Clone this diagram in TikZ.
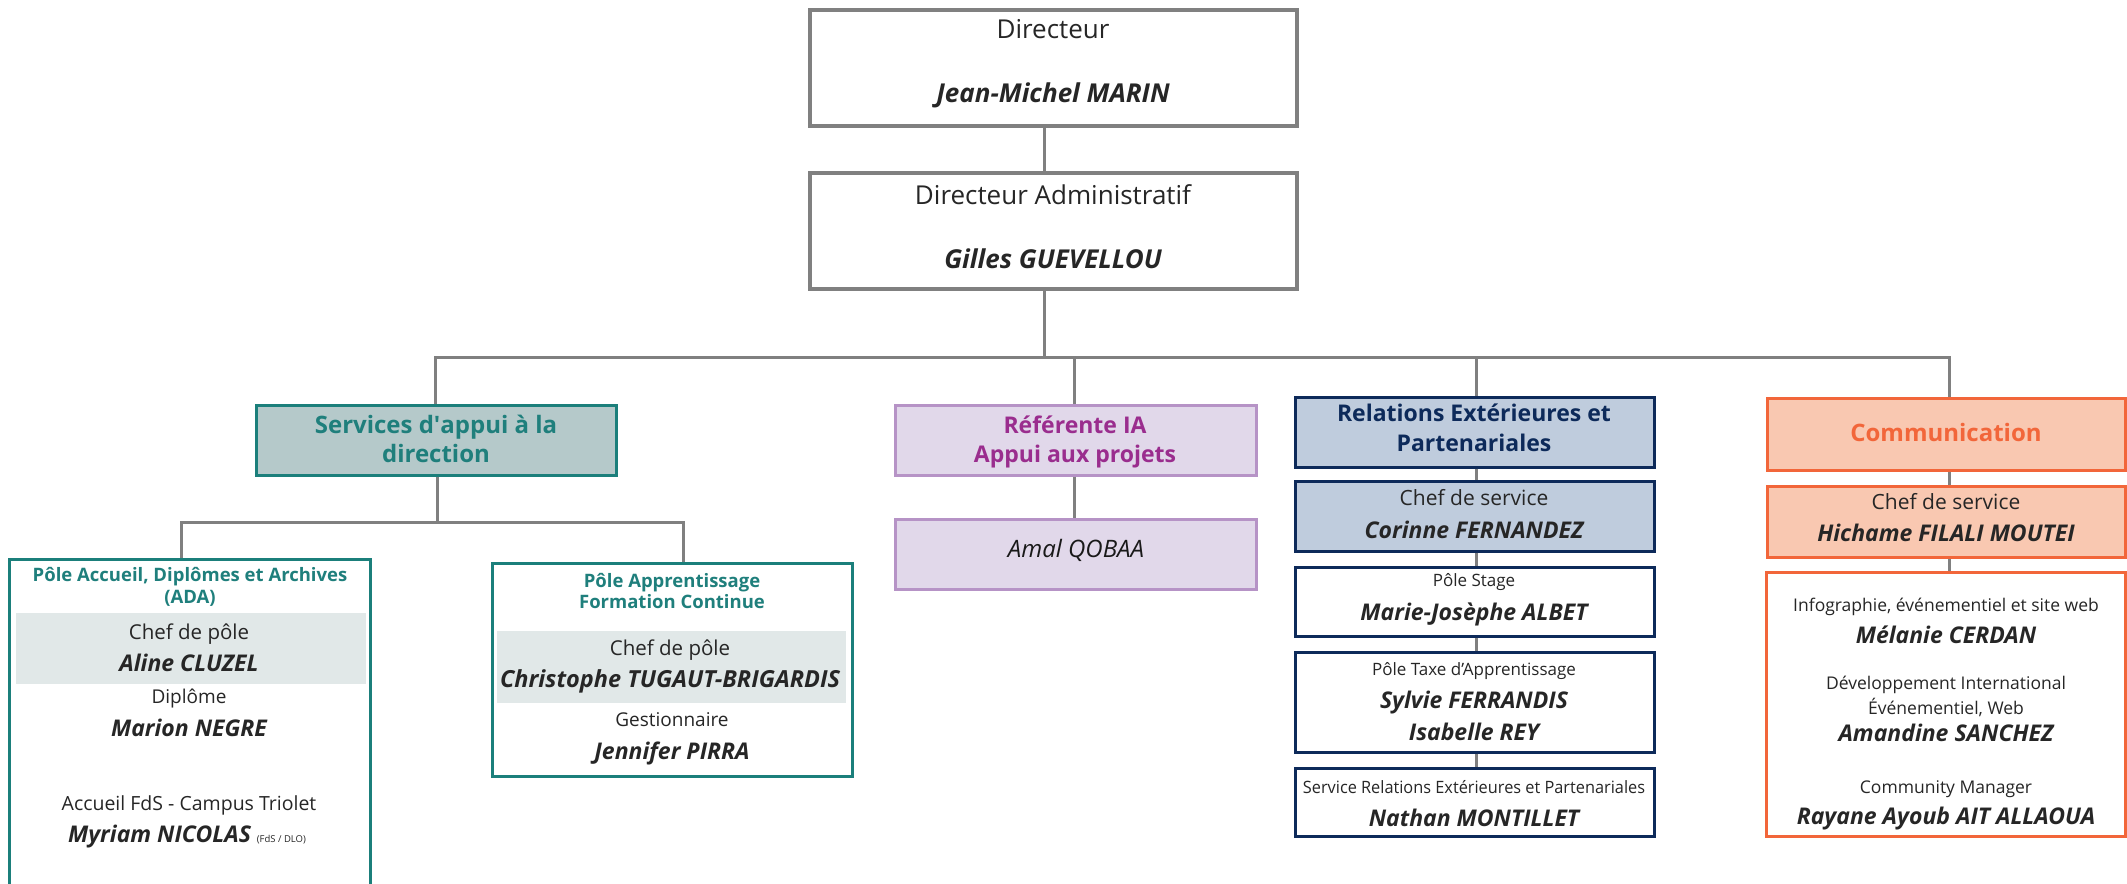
\documentclass[tikz,border=0pt]{standalone}
\usepackage{fontspec}
\setmainfont{Open Sans}
\usepackage{graphicx}
\definecolor{ln}{HTML}{808080}
\definecolor{tealB}{HTML}{1B7F7B}
\definecolor{tealF}{HTML}{B5C9CA}
\definecolor{tealT}{HTML}{1F7F7C}
\definecolor{band}{HTML}{E1E8E8}
\definecolor{purB}{HTML}{B693C6}
\definecolor{purF}{HTML}{E1D8EA}
\definecolor{purT}{HTML}{9A2D8E}
\definecolor{navB}{HTML}{0D2A5A}
\definecolor{navF}{HTML}{BFCCDD}
\definecolor{oraB}{HTML}{F2663A}
\definecolor{oraF}{HTML}{F9C8B1}
\definecolor{txt}{HTML}{262626}
\newcommand\B[6]{\node[bx,#6,minimum width={(#4-#2)*1pt},minimum height={(#5-#3)*1pt}] (#1) at ({(#2+#4)/2},{(#3+#5)/2}) {};}
\newcommand\T[6]{\node[anchor=base,inner sep=0pt,text=txt,#5] (#1) at (#2,{#3+0.35*#4}) {\fontsize{#4}{#4}\selectfont #6};}
\tikzset{
  bx/.style={rectangle,inner sep=0pt,line width=3pt},
  conn/.style={draw=ln,line width=3pt},
  greybox/.style={draw=ln,fill=white,line width=3.5pt},
  tealbox/.style={draw=tealB,fill=tealF},
  tealwhite/.style={draw=tealB,fill=white},
  bandbox/.style={draw=none,fill=band,line width=0pt},
  purbox/.style={draw=purB,fill=purF},
  navbox/.style={draw=navB,fill=navF},
  navwhite/.style={draw=navB,fill=white},
  orabox/.style={draw=oraB,fill=oraF},
  orawhite/.style={draw=oraB,fill=white},
  hd/.style={font=\bfseries},
  nm/.style={font=\bfseries\itshape},
}
\begin{document}
\begin{tikzpicture}[x=1pt,y=-1pt]
\useasboundingbox (0,0) rectangle (2127,883);
\clip (0,0) rectangle (2127,883);
% boxes
\B{dir}{810}{10}{1297}{126}{greybox}
\B{adm}{810}{173}{1297}{289}{greybox}
\B{serv}{256}{405}{616}{475}{tealbox}
\B{ref}{895}{405}{1256}{475}{purbox}
\B{amal}{895}{519}{1256}{589}{purbox}
\B{rel}{1295}{397}{1654}{467}{navbox}
\B{relchef}{1295}{481}{1654}{551}{navbox}
\B{stage}{1295}{567}{1654}{636}{navwhite}
\B{taxe}{1295}{652}{1654}{752}{navwhite}
\B{srel}{1295}{768}{1654}{836}{navwhite}
\B{comm}{1767}{398}{2125}{470}{orabox}
\B{commchef}{1767}{486}{2125}{557}{orabox}
\B{commbig}{1766}{572}{2125}{836}{orawhite}
\B{ada}{9}{559}{370}{900}{tealwhite}
\B{adaband}{16}{613}{366}{684}{bandbox}
\B{appr}{492}{563}{852}{776}{tealwhite}
\B{apprband}{497}{631}{846}{703}{bandbox}
% connector points
\coordinate (bA) at (1044,357);
\coordinate (bL) at (435,357);
\coordinate (bR) at (1949,357);
\coordinate (xq) at (1074,357);
\coordinate (xr) at (1476,357);
\coordinate (sL) at (181,522);
\coordinate (sR) at (683,522);
\coordinate (sM) at (437,522);
% connectors
\draw[conn] (dir.south -| bA) -- (adm.north -| bA);
\draw[conn] (adm.south -| bA) -- (bA);
\draw[conn] (serv.north -| bL) |- (bR) -- (comm.north -| bR);
\draw[conn] (ref.north -| xq) -- (xq);
\draw[conn] (rel.north -| xr) -- (xr);
\draw[conn] (ref.south -| xq) -- (amal.north -| xq);
\draw[conn] (rel.south -| xr) -- (relchef.north -| xr);
\draw[conn] (relchef.south -| xr) -- (stage.north -| xr);
\draw[conn] (stage.south -| xr) -- (taxe.north -| xr);
\draw[conn] (taxe.south -| xr) -- (srel.north -| xr);
\draw[conn] (comm.south -| bR) -- (commchef.north -| bR);
\draw[conn] (commchef.south -| bR) -- (commbig.north -| bR);
\draw[conn] (serv.south -| sM) -- (sM);
\draw[conn] (ada.north -| sL) |- (sR) -- (appr.north -| sR);
% texts
\T{t1}{1053}{29}{26}{}{Directeur}
\T{t2}{1053}{93}{26}{nm}{Jean-Michel MARIN}
\T{t3}{1053}{195}{26}{}{Directeur Administratif}
\T{t4}{1053}{259}{26}{nm}{Gilles GUEVELLOU}
\T{t5}{436}{425}{24}{hd,text=tealT}{Services d\textquotesingle appui à la}
\T{t6}{436}{454}{24}{hd,text=tealT}{direction}
\T{t7}{1075}{425}{23}{hd,text=purT}{Référente IA}
\T{t8}{1075}{454}{23}{hd,text=purT}{Appui aux projets}
\T{t9}{1076}{549}{24}{font=\itshape,text=black!90}{Amal QOBAA}
\T{t10}{1474}{413}{23}{hd,text=navB}{Relations Extérieures et}
\T{t11}{1474}{443}{23}{hd,text=navB}{Partenariales}
\T{t12}{1474}{498}{21}{}{Chef de service}
\T{t13}{1474}{530}{23}{nm}{Corinne FERNANDEZ}
\T{t14}{1474}{581}{17}{}{Pôle Stage}
\T{t15}{1474}{612}{23}{nm}{Marie-Josèphe ALBET}
\T{t16}{1474}{670}{17}{}{Pôle Taxe d’Apprentissage}
\T{t17}{1474}{700}{23}{nm}{Sylvie FERRANDIS}
\T{t18}{1474}{732}{23}{nm}{Isabelle REY}
\T{t19}{1474}{788}{17}{}{\scalebox{0.96}[1]{Service Relations Extérieures et Partenariales}}
\T{t20}{1474}{818}{23}{nm}{Nathan MONTILLET}
\T{t21}{1946}{433}{24}{hd,text=oraB}{Communication}
\T{t22}{1946}{502}{21}{}{Chef de service}
\T{t23}{1946}{533}{23}{nm}{Hichame FILALI MOUTEI}
\T{t24}{1946}{605}{17.5}{}{Infographie, événementiel et site web}
\T{t25}{1946}{635}{23}{nm}{Mélanie CERDAN}
\T{t26}{1946}{683}{17.5}{}{Développement International}
\T{t27}{1946}{708}{17.5}{}{Événementiel, Web}
\T{t28}{1946}{733}{23}{nm}{Amandine SANCHEZ}
\T{t29}{1946}{787}{17.5}{}{Community Manager}
\T{t30}{1946}{816}{23}{nm}{Rayane Ayoub AIT ALLAOUA}
\T{t31}{190}{575}{18.5}{hd,text=tealT}{Pôle Accueil, Diplômes et Archives}
\T{t32}{190}{597}{18.5}{hd,text=tealT}{(ADA)}
\T{t33}{189}{632}{20.5}{}{Chef de pôle}
\T{t34}{189}{663}{23}{nm}{Aline CLUZEL}
\T{t35}{189}{697}{19}{}{Diplôme}
\T{t36}{189}{728}{23}{nm}{Marion NEGRE}
\T{t37}{189}{804}{19.5}{}{Accueil FdS - Campus Triolet}
\T{t38}{187}{834}{23}{nm}{Myriam NICOLAS {\fontsize{9.5}{9.5}\selectfont\mdseries\upshape (FdS / DLO)}}
\T{t39}{672}{581}{18.5}{hd,text=tealT}{Pôle Apprentissage}
\T{t40}{672}{602}{18.5}{hd,text=tealT}{Formation Continue}
\T{t41}{670}{648}{20.5}{}{Chef de pôle}
\T{t42}{670}{679}{23.5}{nm}{Christophe TUGAUT-BRIGARDIS}
\T{t43}{672}{720}{19}{}{Gestionnaire}
\T{t44}{672}{751}{23}{nm}{Jennifer PIRRA}
\end{tikzpicture}
\end{document}
